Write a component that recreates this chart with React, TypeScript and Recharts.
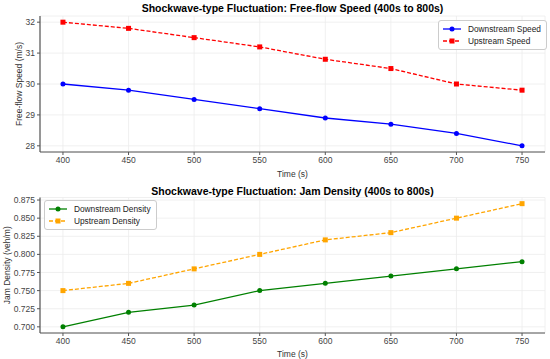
import React from 'react';
import { LineChart, Line, XAxis, YAxis, CartesianGrid, Legend } from 'recharts';

const times = [400, 450, 500, 550, 600, 650, 700, 750];
const downstreamSpeed = [30.0, 29.8, 29.5, 29.2, 28.9, 28.7, 28.4, 28.0];
const upstreamSpeed = [32.0, 31.8, 31.5, 31.2, 30.8, 30.5, 30.0, 29.8];
const downstreamDensity = [0.7, 0.72, 0.73, 0.75, 0.76, 0.77, 0.78, 0.79];
const upstreamDensity = [0.75, 0.76, 0.78, 0.8, 0.82, 0.83, 0.85, 0.87];
const xTicks = [400, 450, 500, 550, 600, 650, 700, 750];
const speedTicks = [28, 29, 30, 31, 32];
const densityTicks = [0.7, 0.725, 0.75, 0.775, 0.8, 0.825, 0.85, 0.875];

const speedData = times.map((t, i) => ({ t, down: downstreamSpeed[i], up: upstreamSpeed[i] }));
const densityData = times.map((t, i) => ({ t, down: downstreamDensity[i], up: upstreamDensity[i] }));

const FONT = '"Liberation Sans", Arial, sans-serif';
const TICK = { fontSize: 8.5, fill: '#444', fontFamily: FONT };
const FRAME = '#555';

const SquareDot = (color: string) => (props: any) => {
  const { cx, cy, index } = props;
  if (cx == null || cy == null) return <g key={index} />;
  return <rect key={index} x={cx - 2.5} y={cy - 2.5} width={5} height={5} fill={color} />;
};

type Item = { label: string; color: string; dashed: boolean; square: boolean };

const makeLegend = (items: Item[]) => () => (
  <div
    style={{
      border: '1px solid #ccc',
      borderRadius: 3,
      background: 'rgba(255,255,255,0.85)',
      padding: '2px 5px 2px 3px',
      fontFamily: FONT,
      fontSize: 8.3,
      color: '#222',
      lineHeight: '12px',
    }}
  >
    {items.map((it) => (
      <div key={it.label} style={{ display: 'flex', alignItems: 'center', whiteSpace: 'nowrap' }}>
        <svg width={20} height={12} style={{ marginRight: 6 }}>
          <line x1={1} y1={6} x2={19} y2={6} stroke={it.color} strokeWidth={1.3} strokeDasharray={it.dashed ? '4 2' : undefined} />
          {it.square ? <rect x={7.5} y={3.5} width={5} height={5} fill={it.color} /> : <circle cx={10} cy={6} r={2.5} fill={it.color} />}
        </svg>
        <span>{it.label}</span>
      </div>
    ))}
  </div>
);

const titleStyle = (top: number): React.CSSProperties => ({
  position: 'absolute',
  top,
  left: 40,
  width: 505,
  textAlign: 'center',
  fontFamily: FONT,
  fontWeight: 'bold',
  fontSize: 10.5,
  color: '#000',
  lineHeight: '12px',
});

export default function App() {
  return (
    <div style={{ position: 'absolute', left: 0, top: 0, width: 550, height: 359, background: '#fff' }}>
      <div style={{ position: 'absolute', left: 0, top: 0, width: 550, height: 179 }}>
        <div style={titleStyle(2)}>Shockwave-type Fluctuation: Free-flow Speed (400s to 800s)</div>
        <LineChart width={550} height={179} data={speedData} margin={{ top: 16, right: 5, bottom: 0, left: 0 }}>
          <CartesianGrid stroke="#ececec" strokeWidth={0.8} />
          <XAxis
            dataKey="t"
            type="number"
            domain={[382.5, 767.5]}
            ticks={xTicks}
            interval={0}
            height={27}
            tickSize={3}
            tickMargin={2}
            tick={TICK}
            axisLine={{ stroke: FRAME, strokeWidth: 1.2 }}
            tickLine={{ stroke: FRAME }}
            label={{ value: 'Time (s)', position: 'insideBottom', offset: 2, style: { fontSize: 8.5, fill: '#333', fontFamily: FONT } }}
          />
          <XAxis xAxisId="top" orientation="top" dataKey="t" type="number" domain={[382.5, 767.5]} height={0} tick={false} tickLine={false} axisLine={{ stroke: FRAME, strokeWidth: 1.2 }} />
          <YAxis
            type="number"
            domain={[27.8, 32.2]}
            ticks={speedTicks}
            interval={0}
            width={40}
            tickSize={3}
            tickMargin={2}
            tick={TICK}
            axisLine={{ stroke: FRAME, strokeWidth: 1.2 }}
            tickLine={{ stroke: FRAME }}
            label={{ value: 'Free-flow Speed (m/s)', angle: -90, position: 'insideLeft', offset: 19, style: { fontSize: 8.5, fill: '#333', fontFamily: FONT, textAnchor: 'middle' } }}
          />
          <YAxis yAxisId="right" orientation="right" domain={[27.8, 32.2]} width={0} tick={false} tickLine={false} axisLine={{ stroke: FRAME, strokeWidth: 1.2 }} />
          <Legend
            layout="horizontal"
            verticalAlign="middle"
            align="center"
            content={makeLegend([
              { label: 'Downstream Speed', color: '#0000ff', dashed: false, square: false },
              { label: 'Upstream Speed', color: '#ff0000', dashed: true, square: true },
            ])}
            wrapperStyle={{ position: 'absolute', left: 438, top: 20, width: 'auto' }}
          />
          <Line dataKey="down" stroke="#0000ff" strokeWidth={1.3} dot={{ r: 2.5, fill: '#0000ff', stroke: 'none' }} isAnimationActive={false} />
          <Line dataKey="up" stroke="#ff0000" strokeWidth={1.3} strokeDasharray="4 2" dot={SquareDot('#ff0000')} isAnimationActive={false} />
        </LineChart>
      </div>
      <div style={{ position: 'absolute', left: 0, top: 179, width: 550, height: 180 }}>
        <div style={titleStyle(5.5)}>Shockwave-type Fluctuation: Jam Density (400s to 800s)</div>
        <LineChart width={550} height={180} data={densityData} margin={{ top: 18.5, right: 5, bottom: 0, left: 0 }}>
          <CartesianGrid stroke="#ececec" strokeWidth={0.8} />
          <XAxis
            dataKey="t"
            type="number"
            domain={[382.5, 767.5]}
            ticks={xTicks}
            interval={0}
            height={26}
            tickSize={3}
            tickMargin={2}
            tick={TICK}
            axisLine={{ stroke: FRAME, strokeWidth: 1.2 }}
            tickLine={{ stroke: FRAME }}
            label={{ value: 'Time (s)', position: 'insideBottom', offset: 2, style: { fontSize: 8.5, fill: '#333', fontFamily: FONT } }}
          />
          <XAxis xAxisId="top" orientation="top" dataKey="t" type="number" domain={[382.5, 767.5]} height={0} tick={false} tickLine={false} axisLine={{ stroke: FRAME, strokeWidth: 1.2 }} />
          <YAxis
            type="number"
            domain={[0.6915, 0.8785]}
            ticks={densityTicks}
            interval={0}
            tickFormatter={(v: number) => v.toFixed(3)}
            width={40}
            tickSize={3}
            tickMargin={2}
            tick={TICK}
            axisLine={{ stroke: FRAME, strokeWidth: 1.2 }}
            tickLine={{ stroke: FRAME }}
            label={{ value: 'Jam Density (veh/m)', angle: -90, position: 'insideLeft', offset: 7, style: { fontSize: 8.5, fill: '#333', fontFamily: FONT, textAnchor: 'middle' } }}
          />
          <YAxis yAxisId="right" orientation="right" domain={[0.6915, 0.8785]} width={0} tick={false} tickLine={false} axisLine={{ stroke: FRAME, strokeWidth: 1.2 }} />
          <Legend
            layout="horizontal"
            verticalAlign="middle"
            align="center"
            content={makeLegend([
              { label: 'Downstream Density', color: '#008000', dashed: false, square: false },
              { label: 'Upstream Density', color: '#ffa500', dashed: true, square: true },
            ])}
            wrapperStyle={{ position: 'absolute', left: 44, top: 21, width: 'auto' }}
          />
          <Line dataKey="down" stroke="#008000" strokeWidth={1.3} dot={{ r: 2.5, fill: '#008000', stroke: 'none' }} isAnimationActive={false} />
          <Line dataKey="up" stroke="#ffa500" strokeWidth={1.3} strokeDasharray="4 2" dot={SquareDot('#ffa500')} isAnimationActive={false} />
        </LineChart>
      </div>
    </div>
  );
}
